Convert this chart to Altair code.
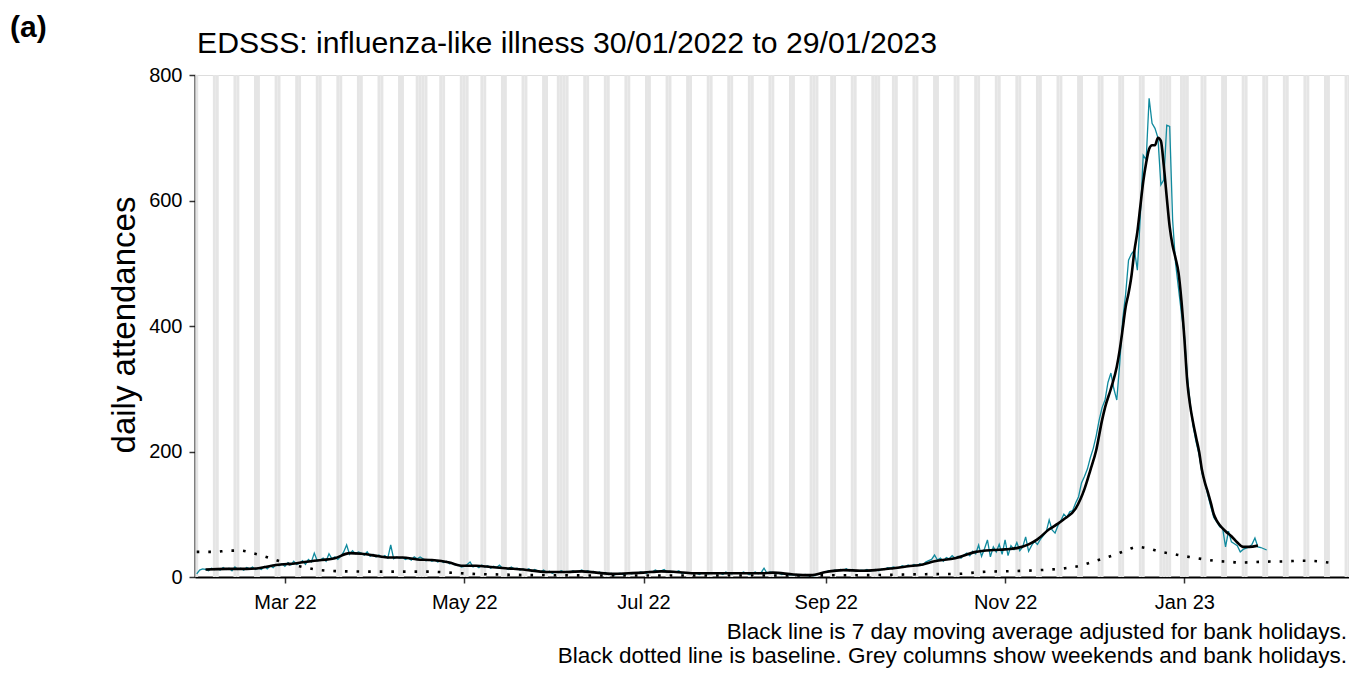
import altair as alt
import pandas as pd

FONT = "Liberation Sans"

# ---------------- data ----------------
daily_start = "2022-01-30"
daily_attendances = [
    5, 11, 13, 12, 10, 14, 12,
    13, 11, 15, 12, 14, 10, 16,
    12, 14, 11, 15, 13, 16, 12,
    14, 12, 17, 13, 18, 15, 20,
    18, 21, 17, 23, 19, 25, 20,
    22, 26, 20, 28, 24, 38, 26,
    27, 30, 25, 37, 29, 32, 28,
    33, 40, 51, 36, 42, 37, 40,
    38, 35, 40, 33, 36, 32, 35,
    31, 34, 30, 51, 29, 32, 30,
    31, 28, 30, 27, 32, 29, 32,
    29, 26, 28, 25, 27, 24, 26,
    23, 25, 21, 22, 19, 20, 16,
    17, 20, 24, 16, 18, 15, 19,
    16, 18, 14, 17, 15, 19, 14,
    15, 12, 16, 13, 14, 11, 13,
    11, 13, 9, 12, 10, 8, 11,
    7, 9, 6, 8, 7, 10, 8,
    9, 7, 10, 8, 9, 11, 8,
    10, 8, 9, 6, 8, 5, 7,
    4, 6, 3, 5, 6, 4, 5,
    6, 5, 7, 6, 8, 7, 6,
    9, 8, 11, 9, 10, 12, 8,
    9, 7, 8, 10, 6, 7, 6,
    7, 5, 6, 4, 7, 6, 5,
    6, 7, 5, 6, 4, 8, 6,
    5, 7, 6, 5, 8, 6, 4,
    6, 8, 5, 7, 14, 6, 8,
    7, 5, 6, 4, 5, 3, 4,
    3, 4, 2, 3, 4, 2, 3,
    2, 4, 5, 7, 8, 10, 9,
    11, 10, 12, 11, 13, 10, 12,
    10, 9, 11, 10, 12, 9, 11,
    12, 10, 13, 12, 15, 14, 16,
    14, 15, 18, 16, 19, 17, 20,
    18, 21, 19, 24, 26, 28, 35,
    27, 30, 25, 31, 29, 34, 30,
    33, 30, 35, 38, 34, 41, 37,
    51, 33, 45, 59, 32, 48, 40,
    52, 36, 59, 34, 50, 44, 55,
    42, 48, 64, 41, 50, 57, 52,
    60, 66, 72, 91, 75, 70, 82,
    90, 100, 95, 104, 106, 118, 128,
    150, 160, 172, 190, 205, 225, 250,
    270, 282, 310, 325, 300, 282, 340,
    410, 450, 505, 515, 521, 489, 574,
    672, 665, 763, 723, 715, 700, 625,
    633, 720, 718, 569, 500, 460, 420,
    385, 320, 275, 240, 215, 195, 165,
    150, 130, 112, 95, 88, 80, 78,
    48, 73, 56, 53, 50, 40, 44,
    46, 48, 52, 62, 48, 47, 45,
    43,
]

ma_dates = [
    "2022-02-02", "2022-02-09", "2022-02-16", "2022-02-20", "2022-02-26",
    "2022-03-05", "2022-03-11", "2022-03-18", "2022-03-23", "2022-03-27",
    "2022-04-02", "2022-04-05", "2022-04-10", "2022-04-15", "2022-04-20",
    "2022-04-26", "2022-04-30", "2022-05-05", "2022-05-10", "2022-05-15",
    "2022-05-21", "2022-05-29", "2022-06-05", "2022-06-10", "2022-06-15",
    "2022-06-20", "2022-06-26", "2022-07-01", "2022-07-07", "2022-07-12",
    "2022-07-18", "2022-07-24", "2022-07-30", "2022-08-04", "2022-08-10",
    "2022-08-14", "2022-08-21", "2022-08-27", "2022-09-01", "2022-09-07",
    "2022-09-13", "2022-09-18", "2022-09-24", "2022-09-29", "2022-10-04",
    "2022-10-08", "2022-10-15", "2022-10-22", "2022-10-28", "2022-11-01",
    "2022-11-05", "2022-11-09", "2022-11-12", "2022-11-16", "2022-11-19",
    "2022-11-21", "2022-11-25", "2022-11-28", "2022-11-30", "2022-12-02",
    "2022-12-04", "2022-12-05", "2022-12-07", "2022-12-09", "2022-12-10",
    "2022-12-11", "2022-12-12", "2022-12-13", "2022-12-14", "2022-12-15",
    "2022-12-16", "2022-12-17", "2022-12-18", "2022-12-19", "2022-12-20",
    "2022-12-21", "2022-12-22", "2022-12-23", "2022-12-24", "2022-12-25",
    "2022-12-26", "2022-12-27", "2022-12-28", "2022-12-29", "2022-12-30",
    "2022-12-31", "2023-01-01", "2023-01-02", "2023-01-03", "2023-01-04",
    "2023-01-05", "2023-01-06", "2023-01-07", "2023-01-08", "2023-01-09",
    "2023-01-10", "2023-01-11", "2023-01-12", "2023-01-13", "2023-01-15",
    "2023-01-17", "2023-01-19", "2023-01-21", "2023-01-23", "2023-01-26",
]
ma_values = [
    12, 13, 13, 14, 19,
    22, 26, 30, 38, 37,
    33, 31, 31, 28, 27,
    23, 18, 18, 16, 14,
    12, 8, 8, 9, 7,
    5, 6, 7, 9, 8,
    6, 6, 6, 6, 6,
    7, 4, 3, 8, 11,
    10, 11, 14, 17, 20,
    25, 30, 40, 43, 44,
    46, 52, 60, 76, 85,
    92, 109, 140, 170, 202,
    250, 270, 300, 335, 362,
    395, 430, 452, 480, 520,
    550, 590, 630, 660, 682,
    688, 688, 700, 695, 655,
    605, 558, 528, 508, 485,
    440, 380, 310, 272, 245,
    222, 200, 170, 150, 135,
    118, 100, 90, 83, 73,
    65, 55, 48, 48, 50,
]

baseline_dates = [
    "2022-01-30", "2022-02-05", "2022-02-10", "2022-02-14", "2022-02-18",
    "2022-02-22", "2022-02-26", "2022-03-02", "2022-03-06", "2022-03-09",
    "2022-03-13", "2022-03-21", "2022-04-02", "2022-04-19", "2022-04-26",
    "2022-05-04", "2022-05-13", "2022-05-24", "2022-06-15", "2022-07-15",
    "2022-08-15", "2022-09-15", "2022-10-05", "2022-10-16", "2022-10-24",
    "2022-11-05", "2022-11-13", "2022-11-21", "2022-11-26", "2022-11-30",
    "2022-12-04", "2022-12-08", "2022-12-12", "2022-12-16", "2022-12-20",
    "2022-12-24", "2022-12-28", "2022-12-31", "2023-01-04", "2023-01-08",
    "2023-01-12", "2023-01-16", "2023-01-20", "2023-01-28", "2023-02-05",
    "2023-02-10", "2023-02-14", "2023-02-19",
]
baseline_values = [
    40, 40, 42, 42, 38,
    33, 27, 21, 17, 14,
    11, 9, 8.5, 8.5, 7,
    5, 4, 3, 2.5, 2.5,
    2.5, 3, 4.5, 5, 8,
    9.6, 11, 13.8, 17.5, 23,
    29, 35, 42, 48, 45,
    40, 36.7, 34, 31, 28,
    25.5, 24.4, 23, 24.4, 25,
    26, 25.5, 23,
]

bank_holidays = [
    "2022-04-15", "2022-04-18", "2022-05-02", "2022-06-02", "2022-06-03",
    "2022-08-29", "2022-09-19", "2022-12-26", "2022-12-27", "2023-01-02",
]

x_tick_dates = ["2022-03-01", "2022-05-01", "2022-07-01",
                "2022-09-01", "2022-11-01", "2023-01-01"]
y_ticks = [0, 200, 400, 600, 800]
x_domain = ["2022-01-29 10:00", "2023-02-26 00:00"]
y_domain = [0, 800]

title_text = "EDSSS: influenza-like illness 30/01/2022 to 29/01/2023"
panel_label = "(a)"
y_title = "daily attendances"
caption_1 = "Black line is 7 day moving average adjusted for bank holidays."
caption_2 = "Black dotted line is baseline. Grey columns show weekends and bank holidays."

# ---------------- tables ----------------
daily_dates = pd.date_range(daily_start, periods=len(daily_attendances), freq="D").strftime("%Y-%m-%d")
df_daily = pd.DataFrame({"date": list(daily_dates), "value": daily_attendances})
df_ma = pd.DataFrame({"date": ma_dates, "value": ma_values})
df_base = pd.DataFrame({"date": baseline_dates, "value": baseline_values})

all_days = pd.date_range("2022-01-29", "2023-02-26", freq="D")
weekend_days = list(all_days[all_days.dayofweek >= 5].strftime("%Y-%m-%d"))
shade_days = sorted(set(weekend_days) | set(bank_holidays))
df_shade = pd.DataFrame({"day": shade_days})


def dt(s):
    ts = pd.Timestamp(s)
    return alt.DateTime(year=ts.year, month=ts.month, date=ts.day,
                        hours=ts.hour, minutes=ts.minute, utc=True)


xscale = alt.Scale(type="utc", domain=[dt(x_domain[0]), dt(x_domain[1])])
yscale = alt.Scale(domain=y_domain, nice=False, zero=True)

xaxis = alt.Axis(values=[dt(d) for d in x_tick_dates], format="%b %y",
                 grid=False, domainColor="black", domainWidth=2,
                 tickColor="#333333", tickWidth=1.5, tickSize=6,
                 labelFontSize=20, labelColor="black", labelFont=FONT,
                 labelPadding=9, title=None)
yaxis = alt.Axis(values=y_ticks, grid=False, domainColor="black", domainWidth=2,
                 tickColor="#333333", tickWidth=1.5, tickSize=6,
                 labelFontSize=20, labelColor="black", labelFont=FONT,
                 labelPadding=7, title=None)

shade = alt.Chart(df_shade).transform_calculate(
    x1="time(datum.day) - 43200000",
    x2="time(datum.day) + 43200000",
).mark_rect(color="#e5e5e5", clip=True).encode(
    x=alt.X("x1:T", scale=xscale, axis=xaxis),
    x2="x2:T",
    y=alt.Y(datum=y_domain[0], scale=yscale, axis=yaxis),
    y2=alt.Y2(datum=y_domain[1]),
)

daily_line = alt.Chart(df_daily).mark_line(color="#108a9e", strokeWidth=1.3).encode(
    x=alt.X("date:T", scale=xscale, axis=xaxis),
    y=alt.Y("value:Q", scale=yscale, axis=yaxis),
)

ma_line = alt.Chart(df_ma).mark_line(color="black", strokeWidth=2.6, interpolate="monotone").encode(
    x=alt.X("date:T", scale=xscale, axis=xaxis),
    y=alt.Y("value:Q", scale=yscale, axis=yaxis),
)

base_line = alt.Chart(df_base).mark_line(color="black", strokeWidth=2.6,
                                         strokeDash=[2.6, 9], interpolate="monotone").encode(
    x=alt.X("date:T", scale=xscale, axis=xaxis),
    y=alt.Y("value:Q", scale=yscale, axis=yaxis),
)


def text_layer(txt, x, y, size, align="left", weight="normal", angle=0, baseline="alphabetic"):
    return alt.Chart(pd.DataFrame({"t": [txt]})).mark_text(
        align=align, baseline=baseline, fontSize=size, fontWeight=weight,
        angle=angle, font=FONT, color="black",
    ).encode(text="t:N", x=alt.value(x), y=alt.value(y))


texts = [
    text_layer(panel_label, -185, -38, 30, weight="bold"),
    text_layer(title_text, 2, -22, 30.2),
    text_layer(y_title, -70, 250, 33, align="center", angle=270, baseline="middle"),
    text_layer(caption_1, 1152, 564, 22.5, align="right"),
    text_layer(caption_2, 1152, 588, 22.5, align="right"),
]

chart = alt.layer(shade, daily_line, ma_line, base_line, *texts).properties(
    width=1154,
    height=502,
    padding={"left": 187, "top": 67, "right": 0, "bottom": 92},
    autosize=alt.AutoSizeParams(type="none"),
).configure_view(stroke=None).configure(font=FONT)

chart.save("out.html", embed_options={"renderer": "svg", "actions": False})
